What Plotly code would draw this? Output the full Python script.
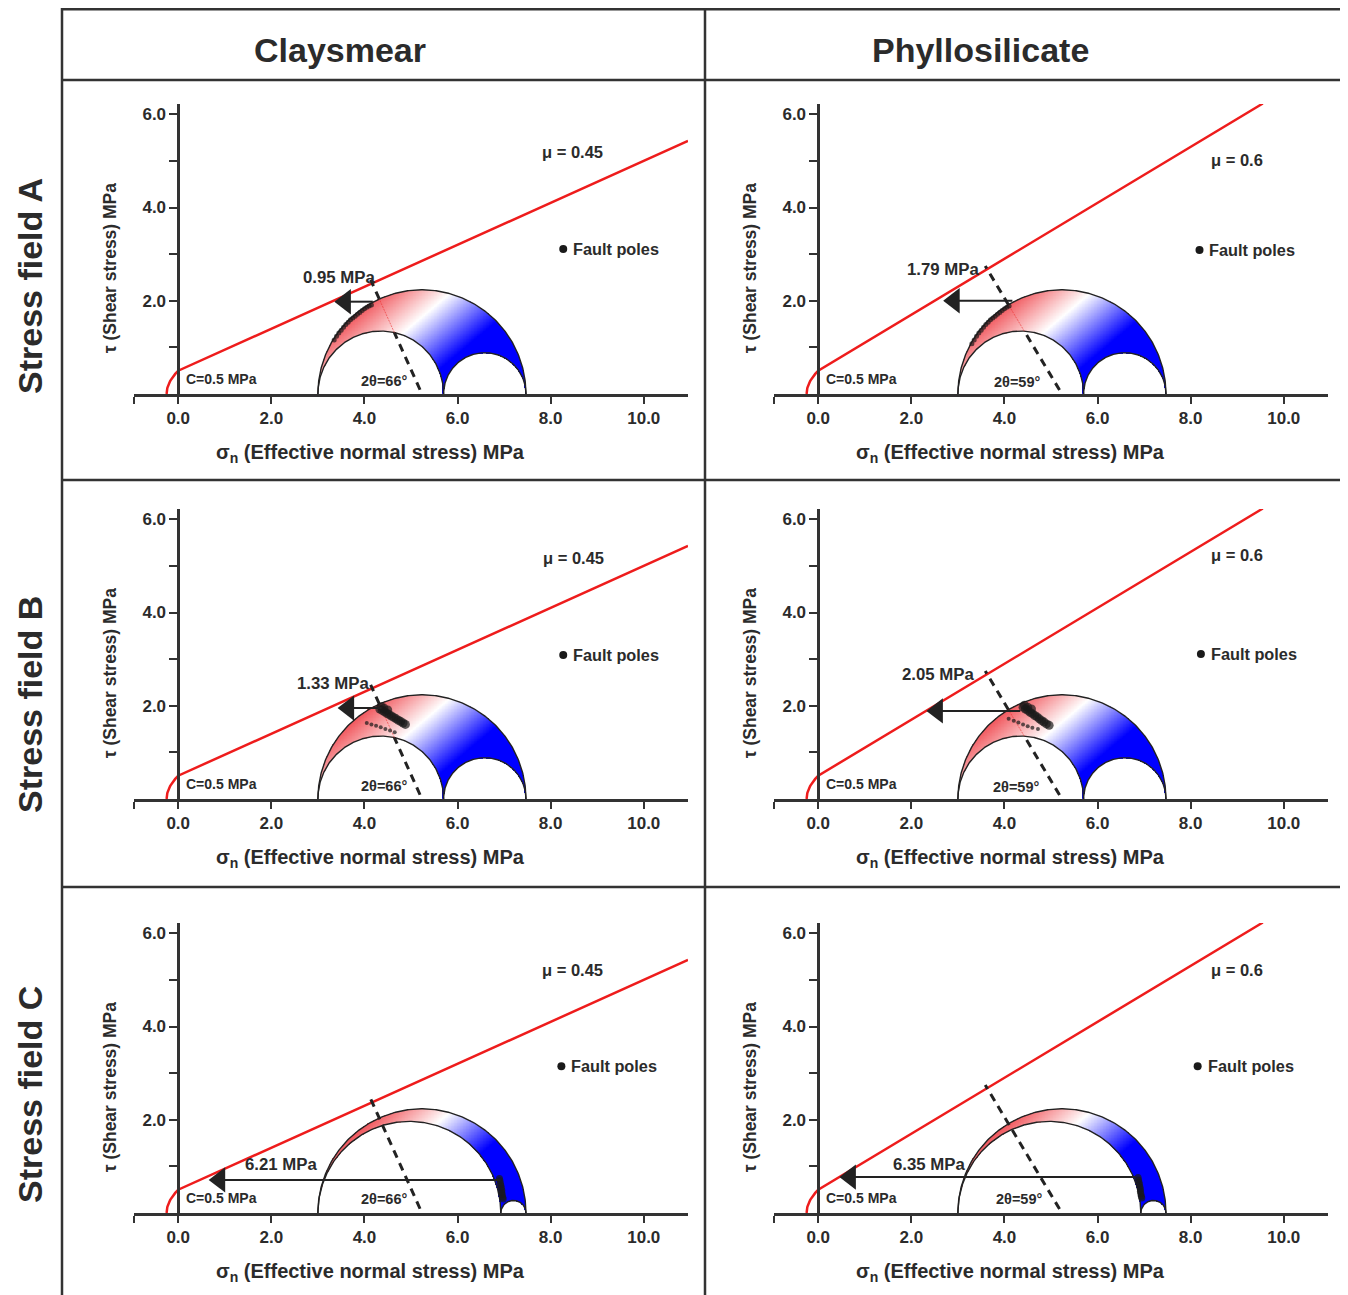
import numpy as np
import plotly.graph_objects as go

# page offset of the plot inside the html body (default body margin)
OFF = 8
W, H = 1348 - OFF, 1295 - OFF

# ---------------- data ----------------
col_titles = ["Claysmear", "Phyllosilicate"]
row_titles = ["Stress field A", "Stress field B", "Stress field C"]

friction = [0.45, 0.6]                       # per column
friction_labels = ["μ = 0.45", "μ = 0.6"]
angle_labels = ["2θ=66°", "2θ=59°"]
cohesion = 0.5
cohesion_label = "C=0.5 MPa"
envelope_end = [10.95, 9.55]                 # sigma_n where the envelope stops

sigma1 = [7.47, 7.47, 7.47]                  # per row (stress field)
sigma2 = [5.70, 5.70, 6.93]
sigma3 = [3.00, 3.00, 3.00]

# per panel, row-major: A-clay, A-phyl, B-clay, B-phyl, C-clay, C-phyl
dp_labels = ["0.95 MPa", "1.79 MPa", "1.33 MPa", "2.05 MPa", "6.21 MPa", "6.35 MPa"]
arrow_tau = [1.98, 2.00, 1.95, 1.89, 0.71, 0.77]
arrow_from = [4.18, 4.17, 4.37, 4.34, 6.92, 6.82]
arrow_to = [3.33, 2.66, 3.40, 2.30, 0.63, 0.43]

poles_x = [
    [3.35, 3.40, 3.45, 3.50, 3.55, 3.60, 3.65, 3.70, 3.75, 3.80, 3.85, 3.90, 3.95, 4.00, 4.05, 4.10, 4.15],
    [3.30, 3.35, 3.40, 3.45, 3.50, 3.55, 3.60, 3.65, 3.70, 3.75, 3.80, 3.85, 3.90, 3.95, 4.00, 4.05, 4.10],
    [4.33, 4.38, 4.43, 4.48, 4.53, 4.58, 4.63, 4.68, 4.73, 4.78, 4.83, 4.88, 4.36, 4.42, 4.50,
     4.05, 4.15, 4.25, 4.35, 4.45, 4.55, 4.65],
    [4.40, 4.45, 4.50, 4.55, 4.60, 4.65, 4.70, 4.75, 4.80, 4.85, 4.90, 4.96, 4.43, 4.50, 4.58,
     4.09, 4.20, 4.30, 4.40, 4.50, 4.60, 4.72],
    [6.90, 6.91, 6.92, 6.93, 6.94, 6.95, 6.95, 6.96, 6.97, 6.98],
    [6.87, 6.88, 6.89, 6.90, 6.91, 6.92, 6.92, 6.93, 6.94, 6.95],
]
poles_y = [
    [1.16, 1.24, 1.31, 1.37, 1.43, 1.49, 1.54, 1.59, 1.63, 1.67, 1.71, 1.75, 1.79, 1.83, 1.86, 1.89, 1.91],
    [1.08, 1.16, 1.24, 1.31, 1.37, 1.43, 1.49, 1.54, 1.59, 1.63, 1.67, 1.71, 1.75, 1.79, 1.83, 1.86, 1.89],
    [1.93, 1.90, 1.87, 1.84, 1.81, 1.78, 1.75, 1.72, 1.69, 1.66, 1.63, 1.60, 1.98, 1.95, 1.91,
     1.63, 1.60, 1.57, 1.54, 1.50, 1.47, 1.43],
    [1.97, 1.93, 1.90, 1.86, 1.83, 1.79, 1.76, 1.72, 1.68, 1.65, 1.61, 1.58, 2.01, 1.97, 1.93,
     1.72, 1.68, 1.64, 1.60, 1.56, 1.53, 1.50],
    [0.74, 0.69, 0.64, 0.59, 0.54, 0.49, 0.44, 0.39, 0.34, 0.30],
    [0.76, 0.71, 0.66, 0.61, 0.56, 0.51, 0.46, 0.41, 0.36, 0.32],
]
poles_size = [
    [5] * 17, [5] * 17,
    [9] * 15 + [4] * 7, [9] * 15 + [4] * 7,
    [7] * 10, [7] * 10,
]

x_ticks = [0, 2, 4, 6, 8, 10]
x_ticktext = ["0.0", "2.0", "4.0", "6.0", "8.0", "10.0"]
x_minor_ticks = [-0.94]
y_ticks = [2, 4, 6]
y_ticktext = ["2.0", "4.0", "6.0"]
y_minor_ticks = [1, 3, 5]

# ---------------- layout constants (reference-page pixels) ----------------
XR = [-0.95, 10.95]
YR = [0.0, 6.22]
col_x0 = [134, 774]
PW = 554
row_top = [104, 509, 923]
row_bot = [394, 799, 1213]
SX = PW / (XR[1] - XR[0])
HEAD = 22  # arrowhead marker size (px)

mu_label_pos = [(8.46, 5.19), (8.99, 5.02), (8.48, 5.17), (8.99, 5.24), (8.46, 5.21), (9.0, 5.21)]
legend_pos = [(8.27, 3.11), (8.19, 3.09), (8.27, 3.09), (8.22, 3.11), (8.23, 3.15), (8.15, 3.15)]
dp_label_pos = [(3.45, 2.49), (2.69, 2.66), (3.32, 2.47), (2.58, 2.68), (2.20, 1.03), (2.37, 1.03)]
angle_label_pos = [(4.42, 0.28), (4.28, 0.25), (4.42, 0.27), (4.24, 0.26), (4.42, 0.30), (4.32, 0.30)]
row_label_cy = [286, 705, 1095]

FONT = "Liberation Sans, Arial, sans-serif"
TXT = "#2b2b2b"
LINE = "#333333"

red_white_blue = [
    [0.0, "rgb(236,28,36)"],
    [0.5417, "rgb(255,255,255)"],
    [1.0, "rgb(0,0,255)"],
]
T_MIN, T_MAX = -1.3, 1.1


def pxx(p):
    return (p - OFF) / W


def pxy(p):
    return 1 - (p - OFF) / H


def px(c, s):
    return col_x0[c] + (s - XR[0]) * SX


fig = go.Figure()
annotations = []
shapes = []

for r in range(3):
    s1, s2, s3 = sigma1[r], sigma2[r], sigma3[r]
    cen, rad = (s1 + s3) / 2, (s1 - s3) / 2
    c1, r1 = (s2 + s3) / 2, (s2 - s3) / 2
    c2, r2 = (s1 + s2) / 2, (s1 - s2) / 2
    for c in range(2):
        i = r * 2 + c
        n = i + 1
        xa = "x" if n == 1 else f"x{n}"
        ya = "y" if n == 1 else f"y{n}"
        mu = friction[c]

        fig.layout[f"xaxis{'' if n == 1 else n}"] = dict(
            domain=[pxx(col_x0[c]), pxx(col_x0[c] + PW)], range=XR, anchor=ya,
            showline=True, linecolor=LINE, linewidth=2.5, showgrid=False, zeroline=False,
            ticks="outside", ticklen=7, tickwidth=2, tickcolor=LINE,
            tickmode="array", tickvals=x_ticks, ticktext=x_ticktext,
            minor=dict(tickmode="array", tickvals=x_minor_ticks, ticks="outside",
                       ticklen=7, tickwidth=2, tickcolor=LINE, showgrid=False),
            tickfont=dict(family=FONT, size=17, color=TXT, weight="bold"),
        )
        fig.layout[f"yaxis{'' if n == 1 else n}"] = dict(
            domain=[pxy(row_bot[r]), pxy(row_top[r])], range=YR, anchor="free",
            position=pxx(px(c, 0)),
            showline=True, linecolor=LINE, linewidth=2.5, showgrid=False, zeroline=False,
            ticks="outside", ticklen=8, tickwidth=2, tickcolor=LINE,
            tickmode="array", tickvals=y_ticks, ticktext=y_ticktext,
            minor=dict(tickmode="array", tickvals=y_minor_ticks, ticks="outside",
                       ticklen=8, tickwidth=2, tickcolor=LINE, showgrid=False),
            tickfont=dict(family=FONT, size=17, color=TXT, weight="bold"),
        )

        # gradient fill of the 3D Mohr region
        dx = 0.016
        xs = np.arange(s3, s1 + dx, dx)
        ys = np.arange(dx / 2, rad + dx, dx)
        X, Y = np.meshgrid(xs, ys)
        tol = 0.012
        inside = ((X - cen) ** 2 + Y ** 2 <= (rad + 0.004) ** 2) & \
                 ((X - c1) ** 2 + Y ** 2 >= (r1 - tol) ** 2) & \
                 ((X - c2) ** 2 + Y ** 2 >= (r2 - tol) ** 2)
        t = (X - 5.3) * 0.643 - (Y - 1.7) * 0.766
        Z = np.where(inside, np.round(t, 3), np.nan)
        fig.add_trace(go.Heatmap(
            x=np.round(xs, 3), y=np.round(ys, 3), z=Z, xaxis=xa, yaxis=ya,
            colorscale=red_white_blue, zmin=T_MIN, zmax=T_MAX, showscale=False,
            hoverinfo="skip",
        ))

        # Mohr circles
        th = np.linspace(0, np.pi, 240)
        for cc, rr in [(cen, rad), (c1, r1), (c2, r2)]:
            fig.add_trace(go.Scatter(
                x=cc + rr * np.cos(th), y=rr * np.sin(th), xaxis=xa, yaxis=ya,
                mode="lines", line=dict(color="#222222", width=1.4), hoverinfo="skip",
            ))

        # failure envelope (Griffith cap + Coulomb line)
        tg = np.linspace(0, 2 * (cohesion / 2), 30)
        sg = tg ** 2 / (4 * cohesion / 2) - cohesion / 2
        ex = np.concatenate([sg, [envelope_end[c]]])
        ey = np.concatenate([tg, [cohesion + mu * envelope_end[c]]])
        fig.add_trace(go.Scatter(
            x=ex, y=ey, xaxis=xa, yaxis=ya, mode="lines",
            line=dict(color="#ee1c1c", width=2.5), hoverinfo="skip",
        ))

        # dashed line at 2θ from the circle centre, normal to the envelope
        phi = np.arctan(mu)
        ux, uy = -np.sin(phi), np.cos(phi)
        dist = (mu * cen + cohesion) / np.sqrt(1 + mu ** 2)
        d = cen - c1
        s_small = d * np.sin(phi) + np.sqrt(d ** 2 * np.sin(phi) ** 2 - d ** 2 + r1 ** 2)
        if r < 2:
            segs = [(0.1, s_small, "dash"), (rad, dist + 0.08, "dash"), (s_small, rad, "thin")]
        else:
            segs = [(0.1, dist + 0.08, "dash")]
        for a, b, kind in segs:
            lx = [cen + a * ux, cen + b * ux]
            ly = [a * uy, b * uy]
            if kind == "dash":
                ln = dict(color="#222222", width=3, dash="8px,6px")
            else:
                ln = dict(color="rgba(235,40,40,0.7)", width=0.8, dash="2px,1px")
            fig.add_trace(go.Scatter(x=lx, y=ly, xaxis=xa, yaxis=ya, mode="lines",
                                     line=ln, hoverinfo="skip"))

        # fault poles
        fig.add_trace(go.Scatter(
            x=poles_x[i], y=poles_y[i], xaxis=xa, yaxis=ya, mode="markers",
            marker=dict(color="#1a1a1a", size=poles_size[i], line=dict(width=0)),
            hoverinfo="skip",
        ))
        # legend dot
        lx0, ly0 = legend_pos[i]
        fig.add_trace(go.Scatter(
            x=[lx0], y=[ly0], xaxis=xa, yaxis=ya, mode="markers",
            marker=dict(color="#1a1a1a", size=8), hoverinfo="skip",
        ))

        # arrow: shaft + triangular head whose tip sits at arrow_to
        head_c = arrow_to[i] + (HEAD * 0.55) / SX
        fig.add_trace(go.Scatter(
            x=[arrow_from[i], head_c], y=[arrow_tau[i], arrow_tau[i]], xaxis=xa, yaxis=ya,
            mode="lines", line=dict(color="#222222", width=2), hoverinfo="skip",
        ))
        fig.add_trace(go.Scatter(
            x=[head_c], y=[arrow_tau[i]], xaxis=xa, yaxis=ya, mode="markers",
            marker=dict(symbol="triangle-left", size=HEAD, color="#222222", line=dict(width=0)),
            hoverinfo="skip",
        ))

        def txt(x, y, s, size, xanchor="center"):
            annotations.append(dict(
                x=x, y=y, xref=xa, yref=ya, text=f"<b>{s}</b>", showarrow=False,
                xanchor=xanchor, yanchor="middle",
                font=dict(family=FONT, size=size, color=TXT),
            ))

        txt(*mu_label_pos[i], friction_labels[c], 16.5)
        txt(lx0 + 0.17, ly0, "Fault poles", 16.3, "left")
        txt(0.12, 0.32, cohesion_label, 14, "left")
        txt(*angle_label_pos[i], angle_labels[c], 14.5)
        txt(*dp_label_pos[i], dp_labels[i], 16.8)

        # axis titles (paper coords)
        yax_px = px(c, 0)
        annotations.append(dict(
            x=pxx(yax_px - 68), y=pxy(row_bot[r] - 126), xref="paper", yref="paper",
            text="<b>τ (Shear stress) MPa</b>", textangle=-90, showarrow=False,
            xanchor="center", yanchor="middle",
            font=dict(family=FONT, size=17.5, color=TXT),
        ))
        annotations.append(dict(
            x=pxx(px(c, 4.12)), y=pxy(row_bot[r] + 59), xref="paper", yref="paper",
            text="<b>σ<sub>n</sub> (Effective normal stress) MPa</b>", showarrow=False,
            xanchor="center", yanchor="middle",
            font=dict(family=FONT, size=20, color=TXT),
        ))

# headers
for c, cx in enumerate([340, 980]):
    annotations.append(dict(
        x=pxx(cx), y=pxy(50), xref="paper", yref="paper", text=f"<b>{col_titles[c]}</b>",
        showarrow=False, xanchor="center", yanchor="middle",
        font=dict(family=FONT, size=34, color=TXT),
    ))
for r in range(3):
    annotations.append(dict(
        x=pxx(30), y=pxy(row_label_cy[r]), xref="paper", yref="paper",
        text=f"<b>{row_titles[r]}</b>", textangle=-90,
        showarrow=False, xanchor="center", yanchor="middle",
        font=dict(family=FONT, size=34, color=TXT),
    ))

# table frame
frame = [
    (62, 9.3, 1344, 9.3), (62, 80, 1344, 80), (62, 480, 1344, 480), (62, 887, 1344, 887),
    (62, 8, 62, 1295), (705, 8, 705, 1295), (1344, 8, 1344, 1295),
]
for x0, y0, x1, y1 in frame:
    shapes.append(dict(type="line", xref="paper", yref="paper",
                       x0=pxx(x0), y0=pxy(y0), x1=pxx(x1), y1=pxy(y1),
                       line=dict(color=LINE, width=2.5)))

fig.update_layout(
    width=W, height=H, margin=dict(l=0, r=0, t=0, b=0),
    paper_bgcolor="white", plot_bgcolor="white", showlegend=False,
    hovermode=False, annotations=annotations, shapes=shapes,
)
fig.write_html("out.html")
